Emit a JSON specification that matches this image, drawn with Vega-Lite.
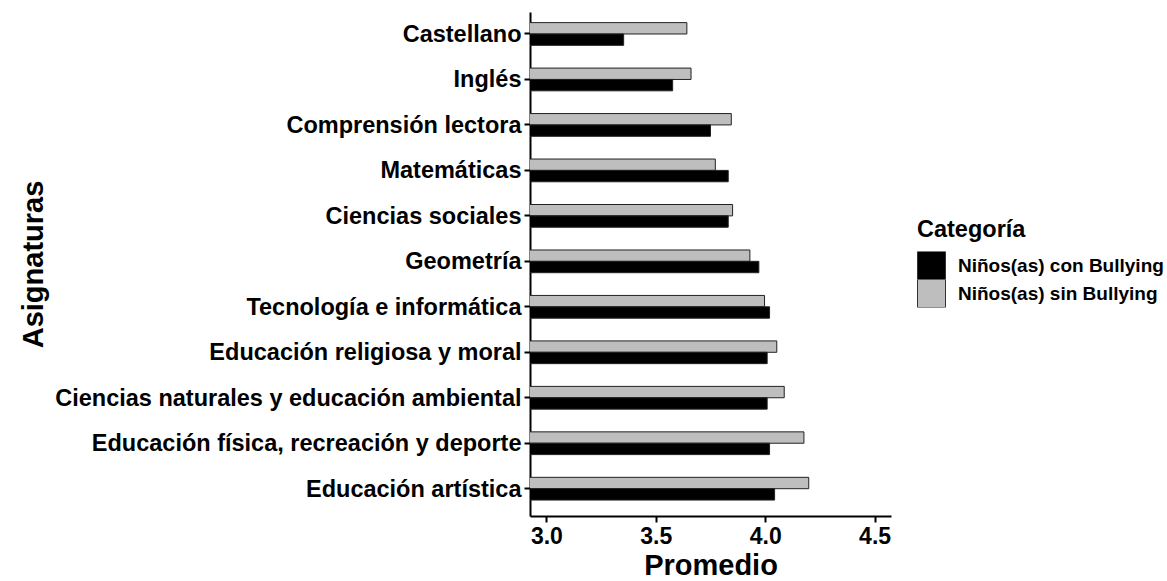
{
  "$schema": "https://vega.github.io/schema/vega-lite/v6.json",
  "autosize": {"type": "none"},
  "width": 361,
  "height": 504,
  "padding": {"left": 530, "top": 12, "right": 276, "bottom": 65},
  "background": "white",
  "config": {
    "font": "Liberation Sans",
    "view": {"stroke": null}
  },
  "data": {
    "values": [
      {"asignatura": "Castellano", "categoria": "Niños(as) sin Bullying", "promedio": 3.642},
      {"asignatura": "Castellano", "categoria": "Niños(as) con Bullying", "promedio": 3.353},
      {"asignatura": "Inglés", "categoria": "Niños(as) sin Bullying", "promedio": 3.661},
      {"asignatura": "Inglés", "categoria": "Niños(as) con Bullying", "promedio": 3.577},
      {"asignatura": "Comprensión lectora", "categoria": "Niños(as) sin Bullying", "promedio": 3.845},
      {"asignatura": "Comprensión lectora", "categoria": "Niños(as) con Bullying", "promedio": 3.750},
      {"asignatura": "Matemáticas", "categoria": "Niños(as) sin Bullying", "promedio": 3.772},
      {"asignatura": "Matemáticas", "categoria": "Niños(as) con Bullying", "promedio": 3.831},
      {"asignatura": "Ciencias sociales", "categoria": "Niños(as) sin Bullying", "promedio": 3.851},
      {"asignatura": "Ciencias sociales", "categoria": "Niños(as) con Bullying", "promedio": 3.831},
      {"asignatura": "Geometría", "categoria": "Niños(as) sin Bullying", "promedio": 3.930},
      {"asignatura": "Geometría", "categoria": "Niños(as) con Bullying", "promedio": 3.971},
      {"asignatura": "Tecnología e informática", "categoria": "Niños(as) sin Bullying", "promedio": 3.997},
      {"asignatura": "Tecnología e informática", "categoria": "Niños(as) con Bullying", "promedio": 4.020},
      {"asignatura": "Educación religiosa y moral", "categoria": "Niños(as) sin Bullying", "promedio": 4.053},
      {"asignatura": "Educación religiosa y moral", "categoria": "Niños(as) con Bullying", "promedio": 4.009},
      {"asignatura": "Ciencias naturales y educación ambiental", "categoria": "Niños(as) sin Bullying", "promedio": 4.087},
      {"asignatura": "Ciencias naturales y educación ambiental", "categoria": "Niños(as) con Bullying", "promedio": 4.009},
      {"asignatura": "Educación física, recreación y deporte", "categoria": "Niños(as) sin Bullying", "promedio": 4.177},
      {"asignatura": "Educación física, recreación y deporte", "categoria": "Niños(as) con Bullying", "promedio": 4.020},
      {"asignatura": "Educación artística", "categoria": "Niños(as) sin Bullying", "promedio": 4.199},
      {"asignatura": "Educación artística", "categoria": "Niños(as) con Bullying", "promedio": 4.043}
    ]
  },
  "mark": {"type": "bar", "clip": true, "stroke": "#222222", "strokeWidth": 1},
  "encoding": {
    "y": {
      "field": "asignatura",
      "type": "nominal",
      "sort": null,
      "scale": {"paddingInner": 0.5, "paddingOuter": 0.292, "align": 0.4},
      "axis": {
        "title": "Asignaturas",
        "titleFontSize": 29,
        "titleFontWeight": "bold",
        "titleColor": "black",
        "titleAngle": 270,
        "titleX": -497,
        "titleY": 252,
        "titleAlign": "center",
        "titleBaseline": "middle",
        "labelFontSize": 23.5,
        "labelFontWeight": "bold",
        "labelColor": "black",
        "labelLimit": 0,
        "labelPadding": 3,
        "labelOffset": 1,
        "tickSize": 6,
        "tickWidth": 2,
        "tickColor": "black",
        "domainColor": "black",
        "domainWidth": 2
      }
    },
    "yOffset": {
      "field": "categoria",
      "type": "nominal",
      "scale": {"domain": ["Niños(as) sin Bullying", "Niños(as) con Bullying"], "paddingInner": 0, "paddingOuter": 0}
    },
    "x": {
      "field": "promedio",
      "type": "quantitative",
      "scale": {"domain": [2.925, 4.575], "zero": false, "nice": false},
      "axis": {
        "title": "Promedio",
        "titleFontSize": 29,
        "titleFontWeight": "bold",
        "titleColor": "black",
        "titleBaseline": "alphabetic",
        "titleY": 58,
        "values": [3, 3.5, 4, 4.5],
        "format": ".1f",
        "grid": false,
        "labelFontSize": 23,
        "labelFontWeight": "bold",
        "labelColor": "black",
        "labelPadding": 3,
        "labelFlush": false,
        "tickSize": 6,
        "tickWidth": 2,
        "tickColor": "black",
        "domainColor": "black",
        "domainWidth": 2
      }
    },
    "fill": {
      "field": "categoria",
      "type": "nominal",
      "scale": {"domain": ["Niños(as) con Bullying", "Niños(as) sin Bullying"], "range": ["#000000", "#bebebe"]},
      "legend": {
        "title": "Categoría",
        "orient": "none",
        "legendX": 387,
        "legendY": 206,
        "padding": 0,
        "titleFontSize": 23.5,
        "titleFontWeight": "bold",
        "titleColor": "black",
        "titlePadding": 10,
        "labelFontSize": 19,
        "labelFontWeight": "bold",
        "labelColor": "black",
        "labelLimit": 0,
        "labelOffset": 12,
        "symbolType": "square",
        "symbolSize": 784,
        "symbolStrokeColor": "#333333",
        "symbolStrokeWidth": 1,
        "clipHeight": 28,
        "rowPadding": 0
      }
    }
  }
}
